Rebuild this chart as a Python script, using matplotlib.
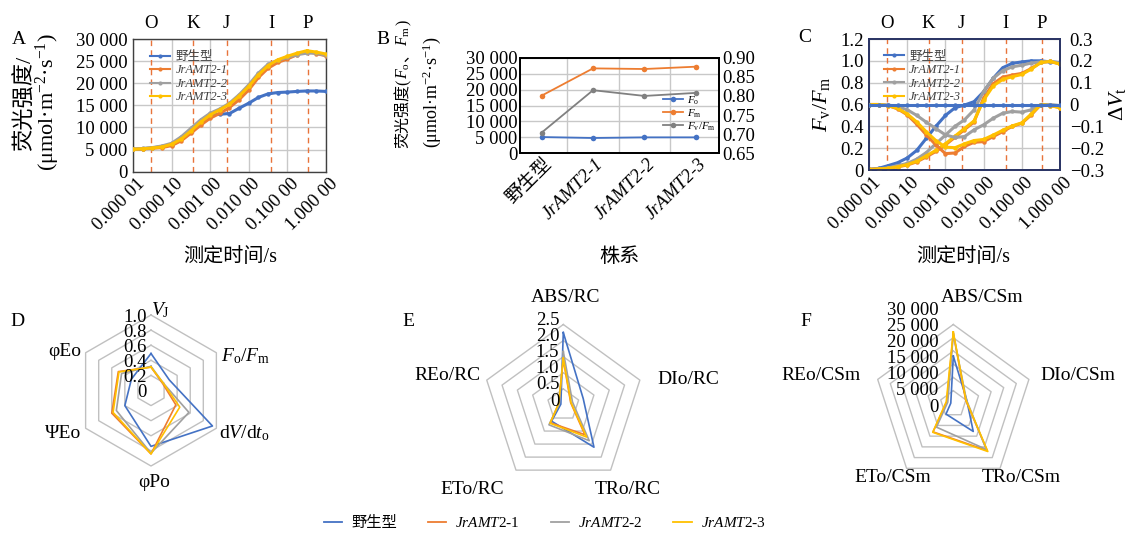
import matplotlib
matplotlib.use('Agg')
import matplotlib.pyplot as plt
import numpy as np
from matplotlib import transforms
from matplotlib.lines import Line2D
from matplotlib.ticker import NullLocator

plt.rcParams['font.family'] = ['Liberation Serif', 'Noto Sans CJK SC']
plt.rcParams['mathtext.fontset'] = 'custom'
plt.rcParams['mathtext.rm'] = 'Liberation Serif'
plt.rcParams['mathtext.it'] = 'Liberation Serif:italic'
plt.rcParams['mathtext.bf'] = 'Liberation Serif:bold'

# ---------------- data ----------------
strains = ['野生型', 'JrAMT2-1', 'JrAMT2-2', 'JrAMT2-3']
colors = ['#4472C4', '#ED7D31', '#A0A0A0', '#FFC000']

# time points (s)
t_s = [0.00001, 0.0000178, 0.0000316, 0.0000562, 0.0001, 0.000178, 0.000316,
       0.000562, 0.001, 0.00178, 0.00316, 0.00562, 0.01, 0.0178, 0.0316,
       0.0562, 0.1, 0.178, 0.316, 0.562, 1.0]

# A: fluorescence intensity
ojip_wt = [5050, 5200, 5400, 5670, 6100, 7560, 9450, 11200, 12900, 13000, 13150,
           14350, 15500, 16800, 17600, 17900, 18000, 18150, 18250, 18250, 18150]
ojip_1 = [5050, 5150, 5300, 5450, 5900, 7000, 8700, 10500, 12100, 13200, 14500,
          16300, 18500, 21300, 23400, 24700, 25500, 26450, 27200, 26700, 26200]
ojip_2 = [5050, 5250, 5450, 5820, 6430, 7900, 9800, 11700, 13225, 14200, 15500,
          17400, 19650, 22300, 24300, 25200, 25850, 26450, 26800, 26800, 26300]
ojip_3 = [5050, 5200, 5350, 5600, 6200, 7400, 9200, 11200, 12850, 14000, 15250,
          17100, 19300, 21900, 24000, 25300, 26100, 26800, 27350, 27050, 26600]

phase_names = ['O', 'K', 'J', 'I', 'P']
phase_t = [0.000029, 0.000365, 0.00265, 0.038, 0.336]

# B: Fo, Fm, Fv/Fm
fo = [5100, 4800, 5000, 5000]
fm = [18080, 26650, 26450, 27180]
fvfm = [0.704, 0.815, 0.800, 0.808]

# C: relative variable fluorescence and its difference
vt_wt = [0.006, 0.015, 0.04, 0.067, 0.11, 0.18, 0.29, 0.40, 0.50, 0.57, 0.595,
         0.626, 0.717, 0.84, 0.937, 0.977, 0.99, 1.0, 1.0, 0.99, 0.985]
vt_1 = [0.005, 0.01, 0.015, 0.03, 0.045, 0.075, 0.12, 0.17, 0.23, 0.30, 0.37,
        0.44, 0.66, 0.79, 0.85, 0.87, 0.885, 0.93, 0.985, 0.995, 0.97]
vt_2 = [0.005, 0.01, 0.02, 0.04, 0.06, 0.10, 0.16, 0.24, 0.32, 0.40, 0.46,
        0.55, 0.72, 0.84, 0.91, 0.945, 0.96, 0.98, 0.99, 0.995, 0.98]
vt_3 = [0.005, 0.01, 0.015, 0.03, 0.05, 0.08, 0.13, 0.18, 0.24, 0.31, 0.38,
        0.45, 0.64, 0.77, 0.83, 0.855, 0.875, 0.925, 0.985, 0.995, 0.97]
dv_wt = [0.0] * 21
dv_1 = [0, 0, -0.005, -0.02, -0.047, -0.09, -0.139, -0.185, -0.225, -0.222,
        -0.192, -0.173, -0.17, -0.147, -0.124, -0.10, -0.086, -0.047, 0, -0.005, -0.014]
dv_2 = [0, 0, -0.002, -0.01, -0.024, -0.05, -0.081, -0.11, -0.139, -0.151,
        -0.147, -0.116, -0.093, -0.063, -0.04, -0.032, -0.035, -0.024, 0, 0, -0.005]
dv_3 = [0, 0, -0.005, -0.018, -0.043, -0.08, -0.125, -0.165, -0.195, -0.198,
        -0.18, -0.165, -0.16, -0.14, -0.118, -0.098, -0.084, -0.043, 0, -0.005, -0.015]

# D radar
d_axes = [r'$V_{\rm J}$', r'$F_{\rm o}/F_{\rm m}$', r'd$V$/d$t_{\rm o}$', 'φPo', 'ΨEo', 'φEo']
d_wt = [0.49, 0.28, 0.94, 0.74, 0.40, 0.30]
d_1 = [0.31, 0.18, 0.38, 0.84, 0.60, 0.50]
d_2 = [0.32, 0.19, 0.58, 0.83, 0.53, 0.45]
d_3 = [0.31, 0.19, 0.44, 0.84, 0.58, 0.49]

# E radar
e_axes = ['ABS/RC', 'DIo/RC', 'TRo/RC', 'ETo/RC', 'REo/RC']
e_wt = [2.25, 0.65, 1.62, 0.62, 0.08]
e_1 = [1.42, 0.24, 1.14, 0.68, 0.15]
e_2 = [1.66, 0.30, 1.37, 0.76, 0.13]
e_3 = [1.45, 0.25, 1.23, 0.70, 0.15]

# F radar
f_axes = ['ABS/CSm', 'DIo/CSm', 'TRo/CSm', 'ETo/CSm', 'REo/CSm']
f_wt = [18080, 5300, 12800, 4700, 1000]
f_1 = [26650, 4900, 21700, 13000, 2600]
f_2 = [26450, 5200, 21200, 10800, 2200]
f_3 = [27180, 5000, 22150, 13200, 2800]

# ---------------- figure ----------------
W, H = 1127, 536
fig = plt.figure(figsize=(W / 100, H / 100), dpi=100)
FS = 13.5
grid_c = '#C8C8C8'
dash_c = '#E8743B'


def ax_px(l, t, r, b):
    return fig.add_axes([l / W, 1 - b / H, (r - l) / W, (b - t) / H])


def sp(v):
    return f"{int(round(v)):,}".replace(",", " ")


def logfmt(v):
    s = f"{v:.5f}"
    return s[:-2] + " " + s[-2:]


def style_frame(ax, c, lw=1.0):
    for s in ax.spines.values():
        s.set_color(c)
        s.set_linewidth(lw)
    ax.tick_params(length=0, labelsize=FS)


def rot_xlabels(ax, xs, labels, dx, dy, styles=None):
    tr = transforms.offset_copy(ax.get_xaxis_transform(), fig=fig, x=dx, y=-dy, units='dots')
    for i, (x, lab) in enumerate(zip(xs, labels)):
        st = styles[i] if styles else 'normal'
        ax.text(x, 0, lab, transform=tr, rotation=45, ha='right', va='center',
                rotation_mode='anchor', fontsize=FS, style=st)


def time_axis(ax):
    ax.set_xscale('log')
    ax.set_xlim(1e-5, 1)
    ax.set_xticks([1e-5, 1e-4, 1e-3, 1e-2, 1e-1, 1])
    ax.xaxis.set_minor_locator(NullLocator())
    ax.set_xticklabels([])
    ax.grid(True, color=grid_c, lw=1)
    ax.set_axisbelow(True)
    rot_xlabels(ax, [1e-5, 1e-4, 1e-3, 1e-2, 1e-1, 1],
                [logfmt(v) for v in [1e-5, 1e-4, 1e-3, 1e-2, 1e-1, 1]], 9, 10)
    for tp, nm in zip(phase_t, phase_names):
        ax.axvline(tp, color=dash_c, lw=1, ls=(0, (4, 3)), zorder=1.5)
        tr = transforms.offset_copy(ax.get_xaxis_transform(), fig=fig, x=0, y=16, units='dots')
        ax.text(tp, 1, nm, transform=tr, ha='center', va='center', fontsize=FS)


def small_legend(ax, x, y):
    hs = [Line2D([], [], color=c, marker='o', ms=3, lw=1.5, mew=0) for c in colors]
    leg = ax.legend(hs, strains, loc='upper left', bbox_to_anchor=(x, y), frameon=False,
                    fontsize=9, handlelength=1.6, labelspacing=0.12, handletextpad=0.4,
                    borderaxespad=0, borderpad=0)
    for i, txt in enumerate(leg.get_texts()):
        txt.set_color('#404040')
        if i > 0:
            txt.set_style('italic')


def vchain(host, x_px, y_bottom_px, pieces, fs):
    # vertical label built from pieces so that CJK text and math can be mixed
    prev = None
    for p in pieces:
        if prev is None:
            prev = fig.text(x_px / W, 1 - y_bottom_px / H, p, rotation=90, rotation_mode='anchor',
                            ha='left', va='baseline', fontsize=fs)
        else:
            prev = host.annotate(p, xy=(x_px / W, 1), xycoords=('figure fraction', prev),
                                 rotation=90, rotation_mode='anchor', ha='left', va='baseline',
                                 fontsize=fs, annotation_clip=False)


# ---- A ----
axA = ax_px(133, 39, 326, 171.7)
style_frame(axA, '#404040')
time_axis(axA)
for ys, c in zip([ojip_wt, ojip_1, ojip_2, ojip_3], colors):
    axA.plot(t_s, ys, color=c, lw=2.2, marker='o', ms=3.2, mew=0, zorder=3)
axA.set_ylim(0, 30000)
axA.set_yticks(np.arange(0, 30001, 5000))
axA.set_yticklabels([sp(v) for v in np.arange(0, 30001, 5000)])
axA.tick_params(axis='y', pad=4)
small_legend(axA, 0.09, 0.91)
fig.text(25 / W, 1 - 103 / H, '荧光强度/', rotation=90, ha='center', va='center', fontsize=16)
fig.text(48 / W, 1 - 102 / H, r'(μmol·m$^{-2}$·s$^{-1}$)', rotation=90, ha='center',
         va='center', fontsize=16)
fig.text(230 / W, 1 - 257 / H, '测定时间/s', ha='center', va='center', fontsize=14.5)
fig.text(19 / W, 1 - 40 / H, 'A', ha='center', va='center', fontsize=14)

# ---- B ----
axB = ax_px(520, 57.7, 719, 153.3)
style_frame(axB, 'black', 1.3)
xB = np.arange(len(strains))
lb1, = axB.plot(xB, fo, color=colors[0], marker='o', ms=4, lw=1.3, mew=0)
lb2, = axB.plot(xB, fm, color=colors[1], marker='o', ms=4, lw=1.3, mew=0)
axB.set_xlim(-0.42, 3.45)
axB.set_ylim(0, 30000)
axB.set_yticks(np.arange(0, 30001, 5000))
axB.set_yticklabels([sp(v) for v in np.arange(0, 30001, 5000)])
axB.set_xticks([0.5, 1.5, 2.5])
axB.set_xticklabels([])
axB.grid(True, color=grid_c, lw=1)
axB.set_axisbelow(True)
axB.tick_params(axis='y', pad=2)
axB2 = axB.twinx()
style_frame(axB2, 'black', 1.3)
lb3, = axB2.plot(xB, fvfm, color='#808080', marker='o', ms=4, lw=1.3, mew=0)
axB2.set_ylim(0.65, 0.90)
axB2.set_yticks(np.arange(0.65, 0.9001, 0.05))
axB2.set_yticklabels([f"{v:.2f}" for v in np.arange(0.65, 0.9001, 0.05)])
axB2.tick_params(axis='y', pad=2)
rot_xlabels(axB, xB, strains, 8, 8, ['normal', 'italic', 'italic', 'italic'])
legB = axB2.legend([lb1, lb2, lb3], [r'$F_{\rm o}$', r'$F_{\rm m}$', r'$F_{\rm v}/F_{\rm m}$'],
                   loc='upper left', bbox_to_anchor=(0.72, 0.62), frameon=False, fontsize=8,
                   handlelength=1.8, labelspacing=0.05, handletextpad=0.3, borderaxespad=0,
                   borderpad=0)
vchain(axB, 408, 148, ['荧光强度(', r'$F_{\rm o}$', '、', r'$F_{\rm m}$', ')'], 11.5)
fig.text(432 / W, 1 - 92 / H, r'(μmol·m$^{-2}$·s$^{-1}$)', rotation=90, ha='center',
         va='center', fontsize=13)
fig.text(619 / W, 1 - 257 / H, '株系', ha='center', va='center', fontsize=14.5)
fig.text(383 / W, 1 - 40 / H, 'B', ha='center', va='center', fontsize=14)

# ---- C ----
axC = ax_px(869, 39, 1060, 170)
style_frame(axC, '#2B3565', 1.3)
time_axis(axC)
for ys, c in zip([vt_wt, vt_1, vt_2, vt_3], colors):
    axC.plot(t_s, ys, color=c, lw=2.2, marker='o', ms=3.2, mew=0, zorder=3)
axC.set_ylim(0, 1.2)
axC.set_yticks(np.arange(0, 1.2001, 0.2))
axC.set_yticklabels(['0'] + [f"{v:.1f}" for v in np.arange(0.2, 1.2001, 0.2)])
axC.tick_params(axis='y', pad=4)
axC2 = axC.twinx()
style_frame(axC2, '#2B3565', 1.3)
for ys, c in zip([dv_1, dv_2, dv_3, dv_wt], [colors[1], colors[2], colors[3], colors[0]]):
    axC2.plot(t_s, ys, color=c, lw=2.2, marker='o', ms=3.2, mew=0, zorder=3)
axC2.set_xlim(1e-5, 1)
axC2.set_ylim(-0.3, 0.3)
dv_ticks = np.round(np.arange(-0.3, 0.3001, 0.1), 1)
axC2.set_yticks(dv_ticks)
axC2.set_yticklabels(['0' if v == 0 else f"{v:.1f}".replace('-', '\u2212') for v in dv_ticks])
axC2.tick_params(axis='y', pad=7)
small_legend(axC, 0.08, 0.91)
fig.text(822 / W, 1 - 104 / H, r'$F_{\rm v}/F_{\rm m}$', rotation=90, ha='center',
         va='center', fontsize=16)
fig.text(1118 / W, 1 - 104 / H, r'$\Delta V_{\rm t}$', rotation=90, ha='center',
         va='center', fontsize=16)
fig.text(963 / W, 1 - 257 / H, '测定时间/s', ha='center', va='center', fontsize=14.5)
fig.text(805 / W, 1 - 38 / H, 'C', ha='center', va='center', fontsize=14)


# ---- radar panels ----
def radar(cx, cy, R, series, rmax, ticks, tick_labels, labels, lab_off, tick_x, tick_scale,
          tick_shift):
    S = 150
    ax = fig.add_axes([(cx - S) / W, 1 - (cy + S) / H, 2 * S / W, 2 * S / H])
    ax.set_xlim(-S, S)
    ax.set_ylim(-S, S)
    ax.axis('off')
    n = len(labels)
    ang = np.pi / 2 - 2 * np.pi * np.arange(n) / n
    for tv in ticks[1:]:
        r = R * tv / rmax
        xs = np.append(r * np.cos(ang), r * np.cos(ang[0]))
        ys = np.append(r * np.sin(ang), r * np.sin(ang[0]))
        ax.plot(xs, ys, color='#C0C0C0', lw=1, zorder=1)
    for vals, c in zip(series, colors):
        r = R * np.array(vals) / rmax
        xs = np.append(r * np.cos(ang), r[0] * np.cos(ang[0]))
        ys = np.append(r * np.sin(ang), r[0] * np.sin(ang[0]))
        ax.plot(xs, ys, color=c, lw=1.2, zorder=3)
    for lab, (dx, dy) in zip(labels, lab_off):
        ax.text(dx, -dy, lab, ha='center', va='center', fontsize=14)
    for tv, tl in zip(ticks, tick_labels):
        ax.text(tick_x, R * tv / rmax * tick_scale + tick_shift, tl, ha='right', va='center',
                fontsize=FS, zorder=4)
    return ax


d_ticks = [0, 0.2, 0.4, 0.6, 0.8, 1.0]
radar(151, 390.5, 75.5, [d_wt, d_1, d_2, d_3], 1.0, d_ticks,
      ['0'] + [f"{v:.1f}" for v in d_ticks[1:]], d_axes,
      [(9, -80), (95, -34), (93, 43), (3, 92), (-88, 43.5), (-86, -39)], -4, 1.0, -2)
fig.text(17 / W, 1 - 321 / H, 'D', ha='center', va='center', fontsize=14)

e_ticks = [0, 0.5, 1.0, 1.5, 2.0, 2.5]
radar(563.3, 405, 80.5, [e_wt, e_1, e_2, e_3], 2.5, e_ticks,
      ['0'] + [f"{v:.1f}" for v in e_ticks[1:]], e_axes,
      [(2, -107), (125, -25.5), (64, 84), (-91, 84), (-116, -29.5)], -4, 1.0, 4)
fig.text(408 / W, 1 - 321 / H, 'E', ha='center', va='center', fontsize=14)

f_ticks = [0, 5000, 10000, 15000, 20000, 25000, 30000]
radar(953.3, 404, 79.5, [f_wt, f_1, f_2, f_3], 30000, f_ticks,
      [sp(v) for v in f_ticks], f_axes,
      [(28.5, -106.5), (124.7, -29), (68.4, 74), (-60.8, 74), (-132.5, -29)], -15, 1.21, -3)
fig.text(806 / W, 1 - 321 / H, 'F', ha='center', va='center', fontsize=14)

# ---- common legend ----
hs = [Line2D([], [], color=c, lw=1.3) for c in colors]
labs = ['野生型'] + [r'$\mathit{JrAMT}$' + s[5:] for s in strains[1:]]
fig.legend(hs, labs, loc='center', bbox_to_anchor=(545 / W, 1 - 523 / H), ncol=4,
           frameon=False, fontsize=11, handlelength=1.2, columnspacing=2.0, handletextpad=0.6)

fig.savefig('out.png', dpi=100)
